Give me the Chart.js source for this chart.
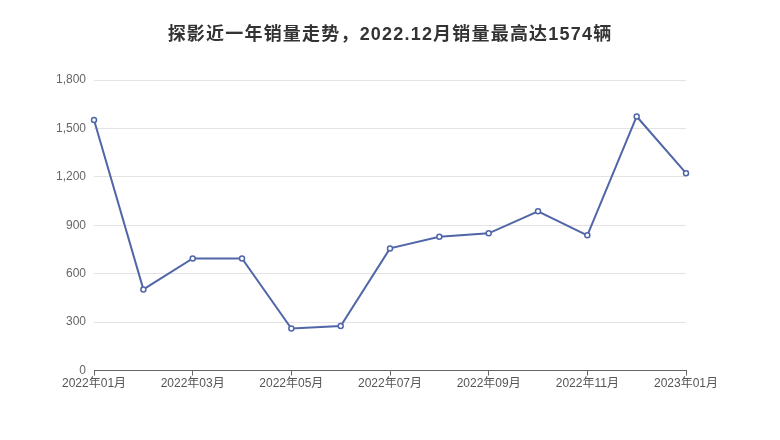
<!DOCTYPE html>
<html><head><meta charset="utf-8">
<script src="https://cdn.jsdelivr.net/npm/chart.js@4/dist/chart.umd.min.js"></script>
<style>html,body{margin:0;padding:0;background:#fff}#wrap{width:780px;height:440px}</style>
</head><body><div id="wrap"><canvas id="c" width="780" height="440"></canvas></div>
<script>
const months = ["2022年01月","2022年02月","2022年03月","2022年04月","2022年05月","2022年06月","2022年07月","2022年08月","2022年09月","2022年10月","2022年11月","2022年12月","2023年01月"];
const sales = [1552, 503, 695, 695, 261, 276, 757, 829, 850, 987, 838, 1574, 1223];
const yTicks = [0, 300, 600, 900, 1200, 1500, 1800];
const titleText = "探影近一年销量走势，2022.12月销量最高达1574辆";

const FONT = "'Liberation Sans','Noto Sans CJK SC',sans-serif";
const titlePlugin = {
  id: 'centerTitle',
  afterDraw(chart) {
    const ctx = chart.ctx;
    ctx.save();
    ctx.font = "bold 18px " + FONT;
    ctx.fillStyle = '#333';
    ctx.textAlign = 'center';
    ctx.textBaseline = 'middle';
    try { ctx.letterSpacing = '1.2px'; } catch (e) {}
    ctx.fillText(titleText, chart.width / 2, 35);
    ctx.restore();
  }
};
new Chart(document.getElementById('c'), {
  type: 'line',
  data: { labels: months, datasets: [{
    data: sales, borderColor: '#5066a8', borderWidth: 2, tension: 0,
    pointRadius: 2.5, pointBorderWidth: 1.5, pointBackgroundColor: '#fff', pointBorderColor: '#5066a8',
    clip: false
  }]},
  plugins: [titlePlugin],
  options: {
    responsive: false, animation: false,
    layout: { padding: { left: 48, right: 94, top: 80, bottom: 48 } },
    plugins: { legend: { display: false }, tooltip: { enabled: false }, title: { display: false } },
    scales: {
      x: {
        offset: false,
        grid: { drawOnChartArea: false, tickLength: 5,
          color: ctx => (ctx.index % 2 === 0 ? '#666' : 'rgba(0,0,0,0)') },
        border: { color: '#666', width: 1 },
        ticks: { autoSkip: false, maxRotation: 0, color: '#555', padding: 1,
          font: { family: FONT, size: 12 },
          callback: (v, i) => (i % 2 === 0 ? months[i] : '') }
      },
      y: {
        min: 0, max: 1800,
        afterBuildTicks: s => { s.ticks = yTicks.map(v => ({ value: v })); },
        grid: { color: '#e3e3e3', drawTicks: false },
        border: { display: false },
        ticks: { color: '#666', padding: 8, font: { family: FONT, size: 12 },
          callback: v => v.toLocaleString('en-US') }
      }
    }
  }
});
</script></body></html>
